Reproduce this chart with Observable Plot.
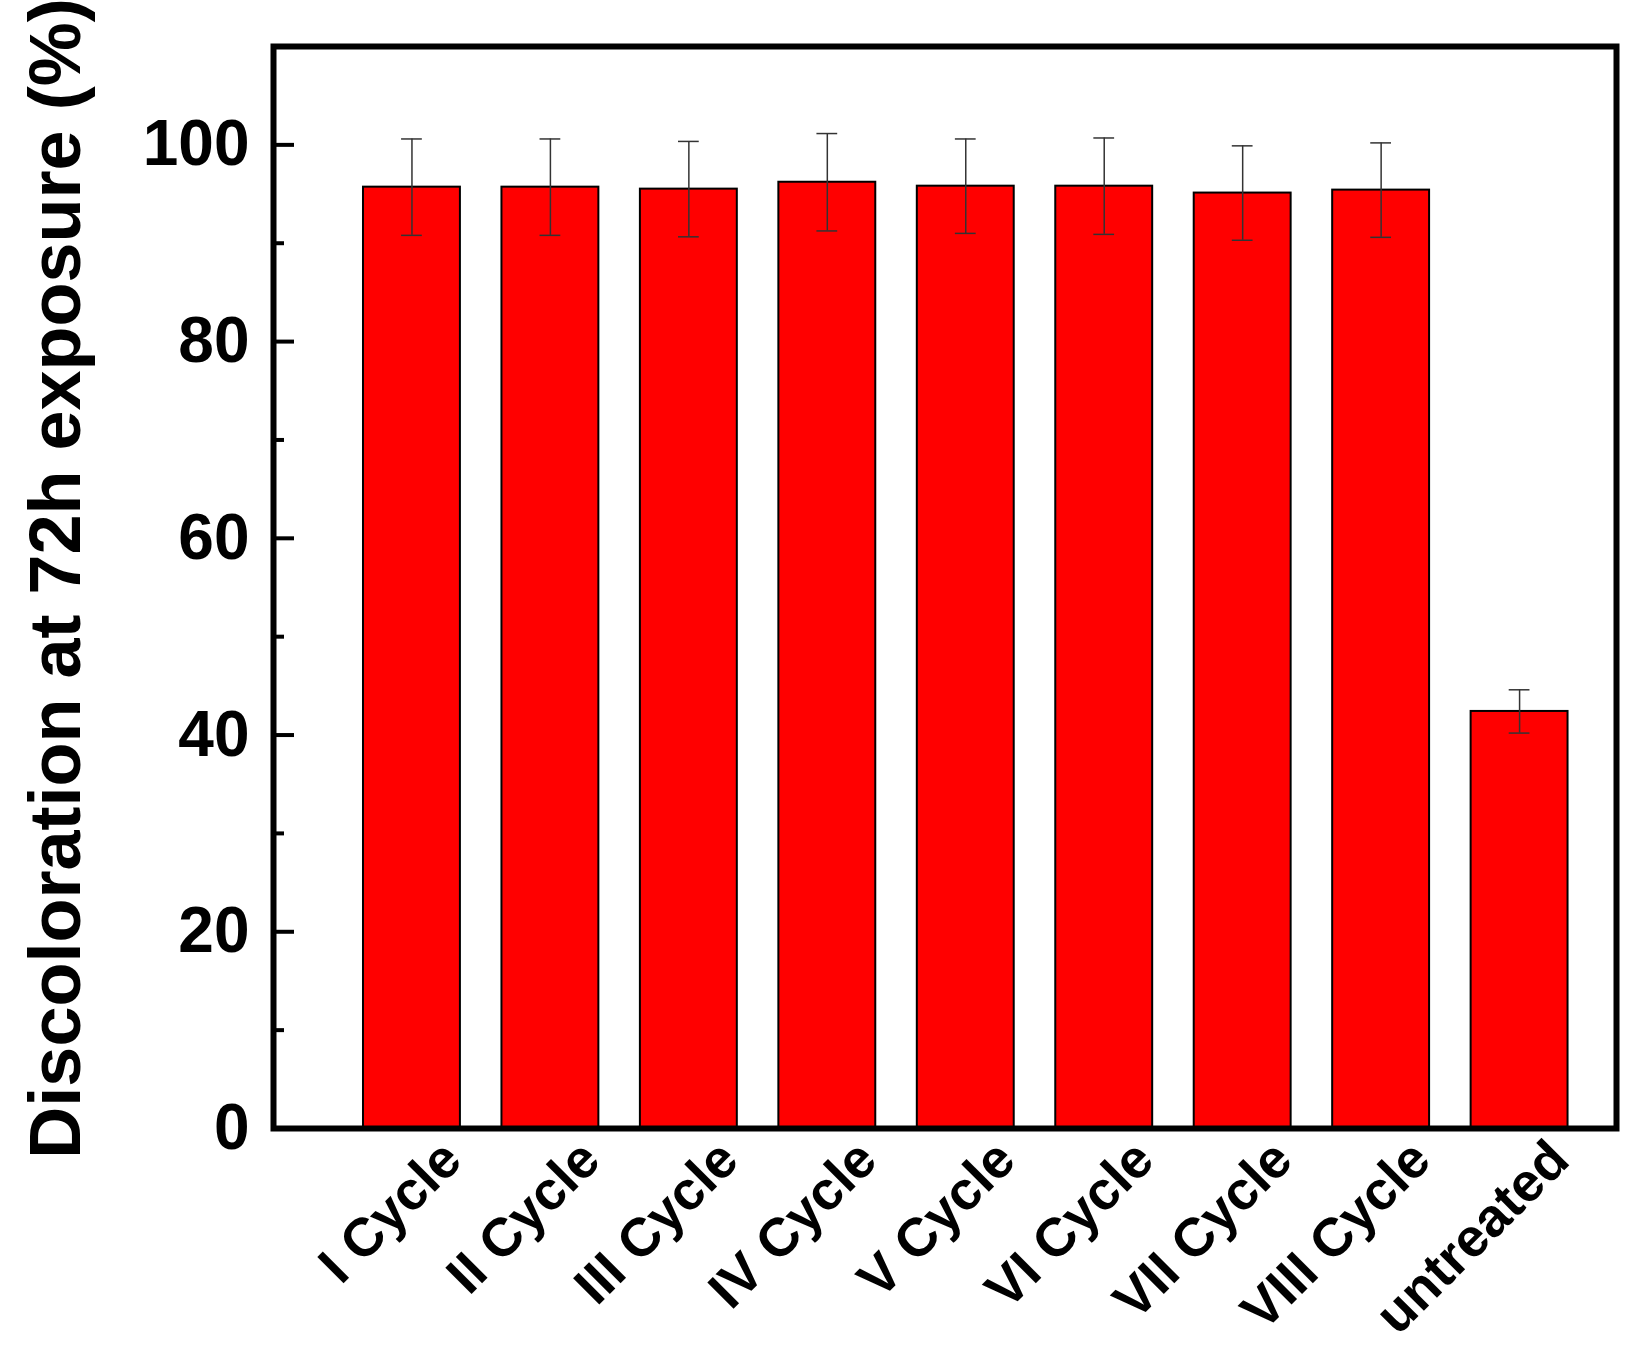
<!DOCTYPE html>
<html>
<head>
<meta charset="utf-8">
<script src="https://cdn.jsdelivr.net/npm/d3@7"></script>
<script src="https://cdn.jsdelivr.net/npm/@observablehq/plot@0.6"></script>
<style>
  html, body { margin: 0; padding: 0; background: #fff; }
  #chart svg { display: block; }
</style>
</head>
<body>
<div id="chart"></div>
<script>
const categories = ["I Cycle", "II Cycle", "III Cycle", "IV Cycle", "V Cycle", "VI Cycle", "VII Cycle", "VIII Cycle", "untreated"];
const values = [95.7, 95.7, 95.5, 96.2, 95.8, 95.8, 95.1, 95.4, 42.4];
const errors = [4.9, 4.9, 4.85, 4.95, 4.8, 4.9, 4.8, 4.8, 2.2];
const majorTicks = [0, 20, 40, 60, 80, 100];
const minorTicks = [10, 30, 50, 70, 90];
const yTitle = "Discoloration at 72h exposure (%)";

const data = categories.map((c, i) => ({cat: c, pos: i + 1, v: values[i], e: errors[i]}));
const halfBar = 0.35, halfCap = 0.075;
const font = "'Liberation Sans', Arial, sans-serif";

const chart = Plot.plot({
  width: 1644,
  height: 1356,
  marginLeft: 273,
  marginRight: 28,
  marginTop: 46,
  marginBottom: 228,
  style: {fontFamily: font, background: "#fff", overflow: "visible"},
  x: {type: "linear", domain: [0, 9.7], axis: null, label: null},
  y: {domain: [0, 110], axis: null, label: null},
  marks: [
    Plot.rectY(data, {x1: d => d.pos - halfBar, x2: d => d.pos + halfBar, y1: 0, y2: "v", fill: "#ff0000", stroke: "#000", strokeWidth: 2}),
    Plot.ruleX(data, {x: "pos", y1: d => d.v - d.e, y2: d => d.v + d.e, stroke: "#333", strokeWidth: 1.5}),
    Plot.ruleY(data, {y: d => d.v + d.e, x1: d => d.pos - halfCap, x2: d => d.pos + halfCap, stroke: "#333", strokeWidth: 1.5}),
    Plot.ruleY(data, {y: d => d.v - d.e, x1: d => d.pos - halfCap, x2: d => d.pos + halfCap, stroke: "#333", strokeWidth: 1.5}),
    Plot.axisY({ticks: majorTicks, label: null, tickSize: 0, tickPadding: 24, fontSize: 64, fontWeight: "bold", fill: "#000"}),
    Plot.axisY({ticks: majorTicks, label: null, tickSize: -21, tickFormat: () => "", strokeWidth: 4, stroke: "#000"}),
    Plot.axisY({ticks: minorTicks, label: null, tickSize: -11, tickFormat: () => "", strokeWidth: 4, stroke: "#000"}),
    Plot.axisX({ticks: categories.map((c, i) => i + 1), label: null, tickFormat: p => categories[p - 1], tickSize: 0, tickRotate: -45, textAnchor: "end", tickPadding: 0, dx: 40, dy: 22, fontSize: 54, fontWeight: "bold", fill: "#000"}),
    Plot.frame({stroke: "#000", strokeWidth: 6}),
    Plot.text([yTitle], {frameAnchor: "left", textAnchor: "middle", rotate: -90, dx: -217, dy: -9, fontSize: 72, fontWeight: "bold", fill: "#000"})
  ]
});
document.getElementById("chart").append(chart);
</script>
</body>
</html>
